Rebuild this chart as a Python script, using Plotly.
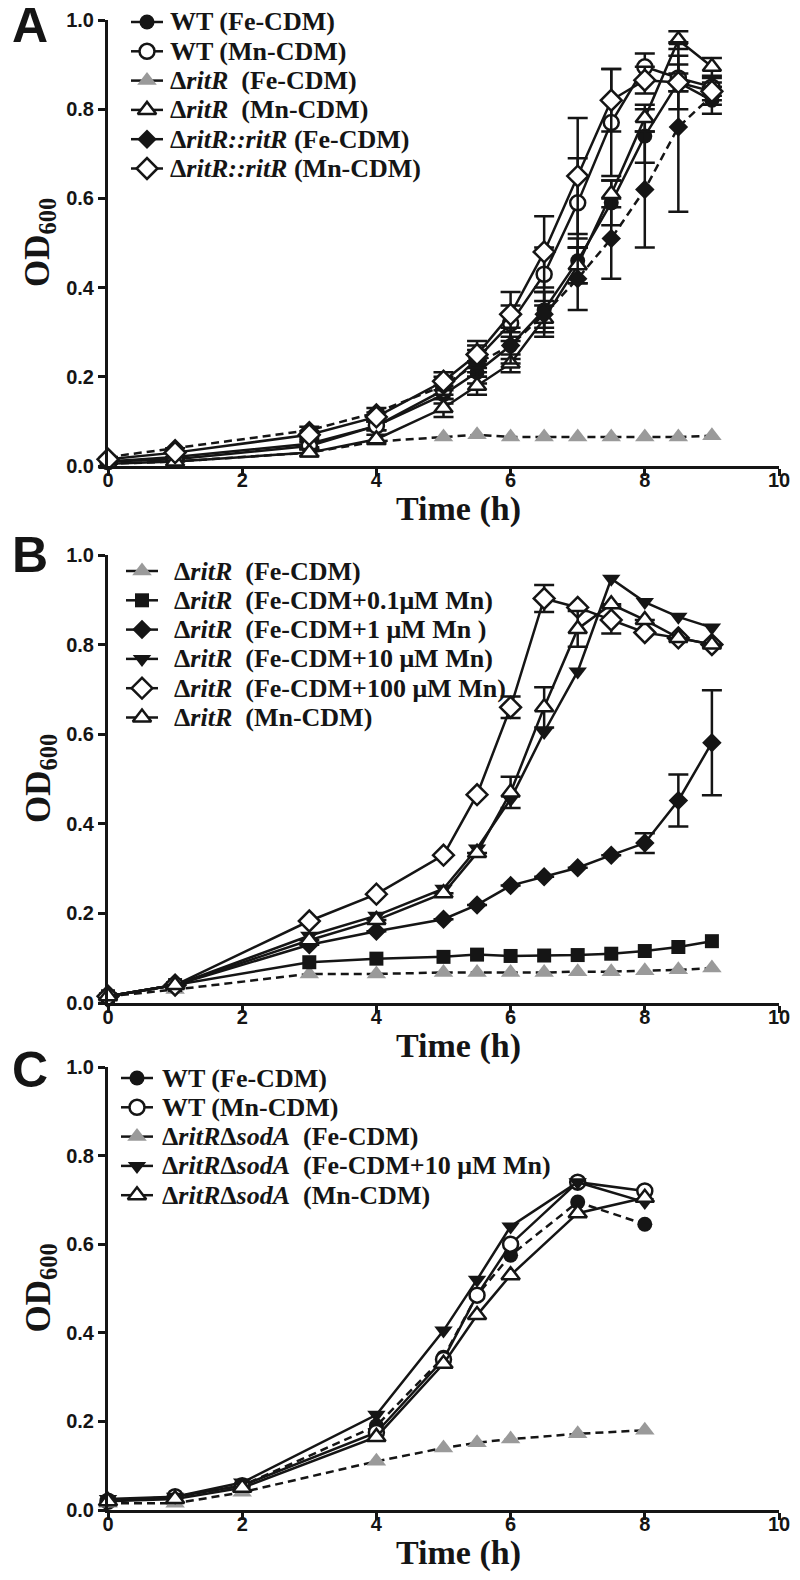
import plotly.graph_objects as go

# ---- panel A: growth in Fe-CDM / Mn-CDM ----
time_a = [0, 1, 3, 4, 5, 5.5, 6, 6.5, 7, 7.5, 8, 8.5, 9]
a_wt_fe = [0.010, 0.020, 0.050, 0.090, 0.160, 0.210, 0.270, 0.350, 0.460, 0.590, 0.740, 0.860, 0.820]
a_wt_fe_err = [None, None, 0.008, 0.010, 0.020, 0.025, 0.030, 0.040, 0.050, 0.050, 0.060, 0.060, 0.030]
a_wt_mn = [0.010, 0.015, 0.045, 0.090, 0.170, 0.240, 0.320, 0.430, 0.590, 0.770, 0.895, 0.870, 0.850]
a_wt_mn_err = [None, None, 0.008, 0.010, 0.020, 0.030, 0.040, 0.060, 0.100, 0.120, 0.030, 0.030, 0.020]
a_rit_fe = [0.005, 0.010, 0.030, 0.055, 0.065, 0.070, 0.065, 0.065, 0.065, 0.065, 0.065, 0.065, 0.068]
a_rit_mn = [0.005, 0.010, 0.030, 0.060, 0.130, 0.180, 0.230, 0.330, 0.450, 0.610, 0.780, 0.955, 0.895]
a_rit_mn_err = [None, None, 0.008, 0.010, 0.020, 0.020, 0.020, 0.030, 0.040, 0.030, 0.030, 0.020, 0.020]
a_comp_fe = [0.020, 0.040, 0.080, 0.120, 0.180, 0.230, 0.270, 0.340, 0.420, 0.510, 0.620, 0.760, 0.830]
a_comp_fe_err = [None, None, 0.008, 0.010, 0.020, 0.030, 0.040, 0.050, 0.070, 0.090, 0.130, 0.190, 0.020]
a_comp_mn = [0.015, 0.030, 0.070, 0.110, 0.190, 0.250, 0.340, 0.480, 0.650, 0.820, 0.865, 0.860, 0.840]
a_comp_mn_err = [None, None, 0.008, 0.010, 0.020, 0.030, 0.050, 0.080, 0.130, 0.070, 0.030, 0.020, 0.020]

# ---- panel B: dritR with Mn supplements ----
time_b = [0, 1, 3, 4, 5, 5.5, 6, 6.5, 7, 7.5, 8, 8.5, 9]
b_fe = [0.015, 0.030, 0.065, 0.065, 0.068, 0.068, 0.068, 0.068, 0.070, 0.070, 0.072, 0.074, 0.078]
b_mn01 = [0.015, 0.040, 0.091, 0.099, 0.103, 0.108, 0.105, 0.106, 0.107, 0.110, 0.116, 0.125, 0.138]
b_mn1 = [0.015, 0.040, 0.130, 0.160, 0.187, 0.219, 0.262, 0.282, 0.302, 0.330, 0.357, 0.452, 0.581]
b_mn1_err = [None, None, None, None, None, None, None, None, None, None, 0.022, 0.058, 0.117]
b_mn10 = [0.015, 0.040, 0.150, 0.195, 0.255, 0.345, 0.455, 0.605, 0.740, 0.947, 0.895, 0.862, 0.838]
b_mn100 = [0.015, 0.040, 0.183, 0.243, 0.330, 0.465, 0.660, 0.903, 0.883, 0.855, 0.827, 0.815, 0.800]
b_mn100_err = [None, None, None, None, None, None, 0.024, 0.030, None, 0.030, None, None, None]
b_mncdm = [0.015, 0.040, 0.140, 0.185, 0.245, 0.335, 0.470, 0.660, 0.835, 0.890, 0.855, 0.815, 0.800]
b_mncdm_err = [None, None, None, None, None, None, 0.035, 0.045, 0.040, None, None, None, None]

# ---- panel C: dritRdsodA ----
time_c = [0, 1, 2, 4, 5, 5.5, 6, 7, 8]
c_wt_fe = [0.020, 0.030, 0.055, 0.190, 0.345, 0.485, 0.575, 0.695, 0.645]
c_wt_mn = [0.020, 0.030, 0.055, 0.175, 0.340, 0.485, 0.600, 0.740, 0.720]
c_dd_fe = [0.015, 0.015, 0.040, 0.110, 0.140, 0.152, 0.160, 0.172, 0.180]
c_dd_mn10 = [0.025, 0.030, 0.062, 0.215, 0.405, 0.520, 0.640, 0.740, 0.695]
c_dd_mncdm = [0.020, 0.025, 0.050, 0.165, 0.330, 0.440, 0.530, 0.670, 0.705]

y_ticks = [0.0, 0.2, 0.4, 0.6, 0.8, 1.0]
x_ticks = [0, 2, 4, 6, 8, 10]

BLACK = "#151515"
GRAY = "#9a9a9a"
DASH = "8px,5px"

STYLES = {
    "fcircle": dict(symbol="circle", size=15, color=BLACK, line=dict(width=0)),
    "ocircle": dict(symbol="circle", size=15, color="white", line=dict(width=2.5, color=BLACK)),
    "gtri": dict(symbol="triangle-up", size=17, color=GRAY, line=dict(width=0)),
    "otri": dict(symbol="triangle-up", size=16, color="white", line=dict(width=2.5, color=BLACK)),
    "fdiam": dict(symbol="diamond", size=15, color=BLACK, line=dict(width=0)),
    "odiam": dict(symbol="diamond", size=16, color="white", line=dict(width=2.5, color=BLACK)),
    "fsquare": dict(symbol="square", size=14, color=BLACK, line=dict(width=0)),
    "ftridown": dict(symbol="triangle-down", size=16, color=BLACK, line=dict(width=0)),
}

# page geometry (px). The page body keeps an 8px margin, so the figure is
# 16px smaller than the window to avoid scrollbars.
W, H = 784, 1564
ML, MR, MT, MB = 100, 13, 12, 62
PLOT_W = W - ML - MR
PLOT_H = H - MT - MB
PANEL_PX = {1: (12, 458), 2: (547, 995), 3: (1059, 1502)}   # (top, bottom) of each y axis
X_MAX = 10.0

# hand-made key, like the original (rows are tighter than plotly's legend)
KEY_ROW_GAP = 29.3
KEY_FIRST_ROW = {1: 2, 2: 16, 3: 11}     # offset below the 1.0 line
KEY_MARK_X = {1: 139, 2: 134, 3: 129}
KEY_TEXT_X = {1: 160, 2: 164, 3: 152}
KEY_HALF = 16
LETTER_DY = {1: 5, 2: 0, 3: 3}
TITLE_DY = 43


def paper_y(py):
    return (MT + PLOT_H - py) / PLOT_H


def paper_x(px):
    return (px - ML) / PLOT_W


def data_x(px):
    return paper_x(px) * X_MAX


def data_y(panel, py):
    top, bot = PANEL_PX[panel]
    return (bot - py) / (bot - top)


fig = go.Figure()
annotations = []
key_rows = {1: 0, 2: 0, 3: 0}

serif_bold = dict(family="Liberation Serif, Times New Roman", color=BLACK, weight="bold")


def add_series(panel, x, y, name, style, dash="solid", err=None):
    xa = "x" if panel == 1 else f"x{panel}"
    ya = "y" if panel == 1 else f"y{panel}"
    tr = dict(
        x=x, y=y, mode="lines+markers", xaxis=xa, yaxis=ya,
        line=dict(color=BLACK, width=2.5, dash=dash),
        marker=STYLES[style], showlegend=False, cliponaxis=False,
        hoverinfo="skip",
    )
    if err is not None:
        tr["error_y"] = dict(type="data", array=err, visible=True,
                             color=BLACK, thickness=2.5, width=10)
    fig.add_trace(go.Scatter(**tr))

    # key entry: short solid line, marker, label
    row = key_rows[panel]
    key_rows[panel] += 1
    top, _ = PANEL_PX[panel]
    ry = top + KEY_FIRST_ROW[panel] + row * KEY_ROW_GAP
    kx = KEY_MARK_X[panel]
    fig.add_trace(go.Scatter(
        x=[data_x(kx - KEY_HALF), data_x(kx + KEY_HALF)],
        y=[data_y(panel, ry)] * 2, mode="lines", xaxis=xa, yaxis=ya,
        line=dict(color=BLACK, width=2.5), showlegend=False, hoverinfo="skip",
        cliponaxis=False,
    ))
    fig.add_trace(go.Scatter(
        x=[data_x(kx)], y=[data_y(panel, ry)], mode="markers", xaxis=xa, yaxis=ya,
        marker=STYLES[style], showlegend=False, hoverinfo="skip", cliponaxis=False,
    ))
    annotations.append(dict(
        text=name, xref="paper", yref="paper",
        x=paper_x(KEY_TEXT_X[panel]), y=paper_y(ry),
        xanchor="left", yanchor="middle", showarrow=False,
        font=dict(serif_bold, size=26),
    ))


D = "\u0394"
SP = "\u00a0\u00a0"

add_series(1, time_a, a_wt_fe, "WT (Fe-CDM)", "fcircle", err=a_wt_fe_err)
add_series(1, time_a, a_wt_mn, "WT (Mn-CDM)", "ocircle", err=a_wt_mn_err)
add_series(1, time_a, a_rit_fe, f"{D}<i>ritR</i>{SP}(Fe-CDM)", "gtri", dash=DASH)
add_series(1, time_a, a_rit_mn, f"{D}<i>ritR</i>{SP}(Mn-CDM)", "otri", err=a_rit_mn_err)
add_series(1, time_a, a_comp_fe, f"{D}<i>ritR::ritR</i> (Fe-CDM)", "fdiam", dash=DASH, err=a_comp_fe_err)
add_series(1, time_a, a_comp_mn, f"{D}<i>ritR::ritR</i> (Mn-CDM)", "odiam", err=a_comp_mn_err)

add_series(2, time_b, b_fe, f"{D}<i>ritR</i>{SP}(Fe-CDM)", "gtri", dash=DASH)
add_series(2, time_b, b_mn01, f"{D}<i>ritR</i>{SP}(Fe-CDM+0.1μM Mn)", "fsquare")
add_series(2, time_b, b_mn1, f"{D}<i>ritR</i>{SP}(Fe-CDM+1 μM Mn )", "fdiam", err=b_mn1_err)
add_series(2, time_b, b_mn10, f"{D}<i>ritR</i>{SP}(Fe-CDM+10 μM Mn)", "ftridown")
add_series(2, time_b, b_mn100, f"{D}<i>ritR</i>{SP}(Fe-CDM+100 μM Mn)", "odiam", err=b_mn100_err)
add_series(2, time_b, b_mncdm, f"{D}<i>ritR</i>{SP}(Mn-CDM)", "otri", err=b_mncdm_err)

add_series(3, time_c, c_wt_fe, "WT (Fe-CDM)", "fcircle", dash=DASH)
add_series(3, time_c, c_wt_mn, "WT (Mn-CDM)", "ocircle")
add_series(3, time_c, c_dd_fe, f"{D}<i>ritR</i>{D}<i>sodA</i>{SP}(Fe-CDM)", "gtri", dash=DASH)
add_series(3, time_c, c_dd_mn10, f"{D}<i>ritR</i>{D}<i>sodA</i>{SP}(Fe-CDM+10 μM Mn)", "ftridown")
add_series(3, time_c, c_dd_mncdm, f"{D}<i>ritR</i>{D}<i>sodA</i>{SP}(Mn-CDM)", "otri")

tick_font = dict(family="Liberation Sans, Arial", size=20, color=BLACK, weight="bold")

layout = dict(
    width=W, height=H,
    margin=dict(l=ML, r=MR, t=MT, b=MB, autoexpand=False),
    paper_bgcolor="white", plot_bgcolor="white",
    showlegend=False,
)
axis_common = dict(showline=True, linewidth=3, linecolor=BLACK, ticks="outside",
                   ticklen=7, tickwidth=3, tickcolor=BLACK, showgrid=False,
                   zeroline=False, tickfont=tick_font, automargin=False)
for p in (1, 2, 3):
    top, bot = PANEL_PX[p]
    xk = "xaxis" if p == 1 else f"xaxis{p}"
    yk = "yaxis" if p == 1 else f"yaxis{p}"
    ya = "y" if p == 1 else f"y{p}"
    xa = "x" if p == 1 else f"x{p}"
    layout[xk] = dict(axis_common, range=[0, X_MAX], tickvals=x_ticks, anchor=ya,
                      domain=[0, 1], ticklabelstandoff=-13)
    layout[yk] = dict(axis_common, range=[0, 1.0], tickvals=y_ticks, tickformat=".1f",
                      anchor=xa, domain=[paper_y(bot), paper_y(top)])
    annotations.append(dict(text="Time (h)", xref="paper", yref="paper",
                            x=paper_x(450), y=paper_y(bot + TITLE_DY),
                            xanchor="center", yanchor="middle", showarrow=False,
                            font=dict(serif_bold, size=34)))
    annotations.append(dict(text="ABC"[p - 1], xref="paper", yref="paper", x=0, y=paper_y(top),
                            xshift=-78, yshift=-LETTER_DY[p], xanchor="center", yanchor="middle",
                            showarrow=False,
                            font=dict(family="Liberation Sans, Arial", size=50,
                                      color=BLACK, weight="bold")))
    annotations.append(dict(text="OD<sub>600</sub>", xref="paper", yref="paper", x=0,
                            y=paper_y((top + bot) / 2), xshift=-68,
                            xanchor="center", yanchor="middle", textangle=-90,
                            showarrow=False, font=dict(serif_bold, size=35)))

layout["annotations"] = annotations
fig.update_layout(**layout)
fig.write_html("out.html")
